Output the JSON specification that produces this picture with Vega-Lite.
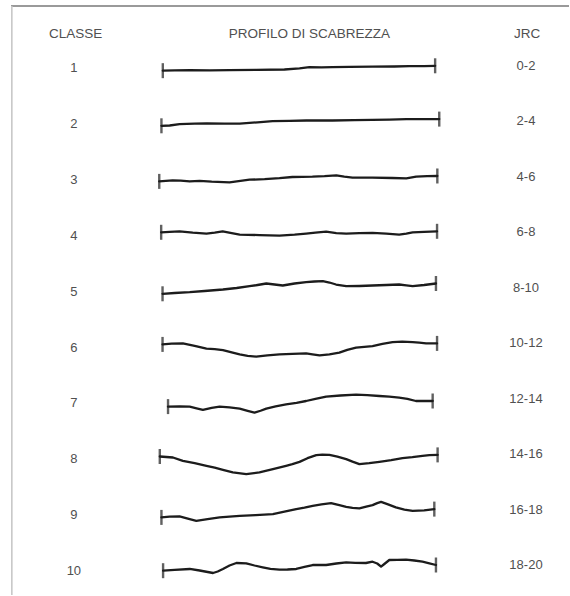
{
  "$schema": "https://vega.github.io/schema/vega-lite/v6.json",
  "width": 570,
  "height": 596,
  "autosize": {"type": "fit", "contains": "padding"},
  "padding": 0,
  "background": "white",
  "config": {"view": {"stroke": null}},
  "datasets": {
    "classi": [
      {"classe": 1, "jrc": "0-2"}, {"classe": 2, "jrc": "2-4"}, {"classe": 3, "jrc": "4-6"},
      {"classe": 4, "jrc": "6-8"}, {"classe": 5, "jrc": "8-10"}, {"classe": 6, "jrc": "10-12"},
      {"classe": 7, "jrc": "12-14"}, {"classe": 8, "jrc": "14-16"}, {"classe": 9, "jrc": "16-18"},
      {"classe": 10, "jrc": "18-20"}
    ],
    "profili": [
      {"classe":1,"x":0.4,"y":20.36},{"classe":1,"x":4.7,"y":20.22},{"classe":1,"x":10.2,"y":20.15},{"classe":1,"x":17.5,"y":20.25},{"classe":1,"x":24.7,"y":20.18},{"classe":1,"x":34.5,"y":20.07},{"classe":1,"x":44.7,"y":19.93},{"classe":1,"x":50.2,"y":19.5},{"classe":1,"x":53.8,"y":19.1},{"classe":1,"x":58.2,"y":19.16},{"classe":1,"x":62.2,"y":19.05},{"classe":1,"x":68.4,"y":18.95},{"classe":1,"x":76.7,"y":18.87},{"classe":1,"x":84.7,"y":18.84},{"classe":1,"x":90.2,"y":18.73},{"classe":1,"x":95.6,"y":18.69},{"classe":1,"x":99.6,"y":18.58},
      {"classe":2,"x":-0.1,"y":40.44},{"classe":2,"x":2.9,"y":40.33},{"classe":2,"x":6.5,"y":39.82},{"classe":2,"x":12.0,"y":39.64},{"classe":2,"x":16.4,"y":39.53},{"classe":2,"x":22.9,"y":39.64},{"classe":2,"x":28.4,"y":39.67},{"classe":2,"x":34.9,"y":39.16},{"classe":2,"x":40.4,"y":38.73},{"classe":2,"x":46.5,"y":38.62},{"classe":2,"x":52.7,"y":38.51},{"classe":2,"x":62.2,"y":38.51},{"classe":2,"x":70.2,"y":38.36},{"classe":2,"x":76.7,"y":38.25},{"classe":2,"x":82.9,"y":38.18},{"classe":2,"x":89.1,"y":38.04},{"classe":2,"x":95.6,"y":38.04},{"classe":2,"x":101.1,"y":38.0},
      {"classe":3,"x":-0.9,"y":60.69},{"classe":3,"x":1.5,"y":60.51},{"classe":3,"x":4.0,"y":60.32},{"classe":3,"x":6.9,"y":60.43},{"classe":3,"x":10.2,"y":60.72},{"classe":3,"x":13.8,"y":60.51},{"classe":3,"x":18.2,"y":60.8},{"classe":3,"x":24.7,"y":61.05},{"classe":3,"x":32.0,"y":60.07},{"classe":3,"x":37.5,"y":59.89},{"classe":3,"x":42.9,"y":59.52},{"classe":3,"x":47.6,"y":59.09},{"classe":3,"x":54.9,"y":58.98},{"classe":3,"x":59.3,"y":58.8},{"classe":3,"x":63.6,"y":58.51},{"classe":3,"x":66.5,"y":58.98},{"classe":3,"x":69.5,"y":59.34},{"classe":3,"x":76.7,"y":59.34},{"classe":3,"x":84.0,"y":59.45},{"classe":3,"x":89.1,"y":59.6},{"classe":3,"x":92.7,"y":58.98},{"classe":3,"x":96.7,"y":58.8},{"classe":3,"x":100.4,"y":58.72},
      {"classe":4,"x":-0.2,"y":79.23},{"classe":4,"x":2.9,"y":79.08},{"classe":4,"x":6.5,"y":78.87},{"classe":4,"x":11.3,"y":79.34},{"classe":4,"x":16.3,"y":79.7},{"classe":4,"x":19.3,"y":79.34},{"classe":4,"x":22.2,"y":78.87},{"classe":4,"x":25.5,"y":79.52},{"classe":4,"x":28.4,"y":80.07},{"classe":4,"x":35.6,"y":80.25},{"classe":4,"x":42.9,"y":80.43},{"classe":4,"x":48.4,"y":80.07},{"classe":4,"x":52.6,"y":79.7},{"classe":4,"x":56.0,"y":79.34},{"classe":4,"x":59.9,"y":78.98},{"classe":4,"x":63.6,"y":79.52},{"classe":4,"x":67.2,"y":79.7},{"classe":4,"x":72.0,"y":79.52},{"classe":4,"x":76.8,"y":79.45},{"classe":4,"x":81.8,"y":79.7},{"classe":4,"x":86.5,"y":80.07},{"classe":4,"x":89.1,"y":79.7},{"classe":4,"x":91.4,"y":79.23},{"classe":4,"x":95.6,"y":79.08},{"classe":4,"x":100.3,"y":78.87},
      {"classe":5,"x":0.3,"y":101.63},{"classe":5,"x":4.7,"y":101.34},{"classe":5,"x":10.2,"y":101.05},{"classe":5,"x":15.6,"y":100.61},{"classe":5,"x":22.3,"y":100.07},{"classe":5,"x":27.3,"y":99.52},{"classe":5,"x":32.0,"y":98.87},{"classe":5,"x":34.9,"y":98.43},{"classe":5,"x":38.1,"y":97.88},{"classe":5,"x":41.1,"y":98.25},{"classe":5,"x":44.1,"y":98.61},{"classe":5,"x":48.4,"y":97.88},{"classe":5,"x":52.6,"y":97.41},{"classe":5,"x":55.6,"y":97.15},{"classe":5,"x":58.7,"y":97.04},{"classe":5,"x":61.1,"y":97.52},{"classe":5,"x":63.5,"y":98.25},{"classe":5,"x":67.2,"y":98.87},{"classe":5,"x":72.0,"y":98.79},{"classe":5,"x":76.8,"y":98.61},{"classe":5,"x":81.8,"y":98.43},{"classe":5,"x":86.5,"y":98.25},{"classe":5,"x":89.1,"y":98.54},{"classe":5,"x":91.4,"y":98.87},{"classe":5,"x":95.6,"y":98.43},{"classe":5,"x":99.9,"y":97.88},
      {"classe":6,"x":0.3,"y":120.07},{"classe":6,"x":3.6,"y":119.81},{"classe":6,"x":7.7,"y":119.7},{"classe":6,"x":12.0,"y":120.61},{"classe":6,"x":16.3,"y":121.63},{"classe":6,"x":19.3,"y":121.81},{"classe":6,"x":22.3,"y":122.13},{"classe":6,"x":25.5,"y":122.97},{"classe":6,"x":28.4,"y":123.7},{"classe":6,"x":31.3,"y":124.24},{"classe":6,"x":34.4,"y":124.53},{"classe":6,"x":38.5,"y":124.06},{"classe":6,"x":42.9,"y":123.7},{"classe":6,"x":47.6,"y":123.51},{"classe":6,"x":52.6,"y":123.33},{"classe":6,"x":54.9,"y":123.7},{"classe":6,"x":57.5,"y":124.06},{"classe":6,"x":61.1,"y":123.7},{"classe":6,"x":64.7,"y":123.08},{"classe":6,"x":67.6,"y":122.06},{"classe":6,"x":70.8,"y":121.26},{"classe":6,"x":73.8,"y":120.97},{"classe":6,"x":76.8,"y":120.68},{"classe":6,"x":80.4,"y":119.88},{"classe":6,"x":84.1,"y":119.22},{"classe":6,"x":87.6,"y":119.08},{"classe":6,"x":91.4,"y":119.22},{"classe":6,"x":93.8,"y":119.41},{"classe":6,"x":96.3,"y":119.7},{"classe":6,"x":100.3,"y":119.7},
      {"classe":7,"x":2.3,"y":142.72},{"classe":7,"x":6.5,"y":142.61},{"classe":7,"x":10.2,"y":142.72},{"classe":7,"x":12.7,"y":143.34},{"classe":7,"x":15.0,"y":143.95},{"classe":7,"x":18.2,"y":143.15},{"classe":7,"x":21.1,"y":142.72},{"classe":7,"x":24.7,"y":142.97},{"classe":7,"x":28.4,"y":143.44},{"classe":7,"x":31.3,"y":144.24},{"classe":7,"x":33.8,"y":144.9},{"classe":7,"x":36.0,"y":144.24},{"classe":7,"x":38.1,"y":143.44},{"classe":7,"x":41.5,"y":142.61},{"classe":7,"x":45.3,"y":141.88},{"classe":7,"x":49.1,"y":141.33},{"classe":7,"x":52.6,"y":140.68},{"classe":7,"x":56.0,"y":139.88},{"classe":7,"x":59.9,"y":139.08},{"classe":7,"x":65.1,"y":138.68},{"classe":7,"x":70.8,"y":138.35},{"classe":7,"x":74.9,"y":138.53},{"classe":7,"x":79.3,"y":138.86},{"classe":7,"x":82.9,"y":139.08},{"classe":7,"x":86.5,"y":139.44},{"classe":7,"x":89.5,"y":139.88},{"classe":7,"x":92.6,"y":140.68},{"classe":7,"x":95.6,"y":140.61},{"classe":7,"x":98.7,"y":140.68},
      {"classe":8,"x":-0.7,"y":160.89},{"classe":8,"x":4.1,"y":161.26},{"classe":8,"x":7.7,"y":162.49},{"classe":8,"x":12.0,"y":163.33},{"classe":8,"x":16.3,"y":164.31},{"classe":8,"x":19.3,"y":164.97},{"classe":8,"x":22.3,"y":165.77},{"classe":8,"x":25.9,"y":166.71},{"classe":8,"x":30.8,"y":167.33},{"classe":8,"x":35.6,"y":166.71},{"classe":8,"x":40.5,"y":165.51},{"classe":8,"x":45.3,"y":164.31},{"classe":8,"x":47.6,"y":163.69},{"classe":8,"x":50.2,"y":162.86},{"classe":8,"x":53.1,"y":161.51},{"classe":8,"x":56.3,"y":160.42},{"classe":8,"x":58.5,"y":160.24},{"classe":8,"x":61.1,"y":160.31},{"classe":8,"x":64.0,"y":160.97},{"classe":8,"x":67.2,"y":161.87},{"classe":8,"x":69.5,"y":162.78},{"classe":8,"x":72.0,"y":163.69},{"classe":8,"x":75.6,"y":163.33},{"classe":8,"x":79.3,"y":162.86},{"classe":8,"x":83.6,"y":162.24},{"classe":8,"x":87.7,"y":161.51},{"classe":8,"x":91.3,"y":161.15},{"classe":8,"x":95.0,"y":160.67},{"classe":8,"x":97.5,"y":160.42},{"classe":8,"x":100.5,"y":160.31},
      {"classe":9,"x":-0.1,"y":183.08},{"classe":9,"x":2.9,"y":182.79},{"classe":9,"x":6.5,"y":182.71},{"classe":9,"x":9.5,"y":183.51},{"classe":9,"x":12.6,"y":184.31},{"classe":9,"x":16.7,"y":183.69},{"classe":9,"x":21.1,"y":183.08},{"classe":9,"x":24.7,"y":182.79},{"classe":9,"x":28.4,"y":182.49},{"classe":9,"x":34.2,"y":182.24},{"classe":9,"x":40.5,"y":181.88},{"classe":9,"x":44.7,"y":180.97},{"classe":9,"x":49.0,"y":180.06},{"classe":9,"x":52.0,"y":179.51},{"classe":9,"x":55.0,"y":178.86},{"classe":9,"x":58.2,"y":178.35},{"classe":9,"x":61.7,"y":177.87},{"classe":9,"x":64.7,"y":178.6},{"classe":9,"x":67.2,"y":179.22},{"classe":9,"x":69.5,"y":179.62},{"classe":9,"x":72.0,"y":179.8},{"classe":9,"x":74.5,"y":179.15},{"classe":9,"x":76.8,"y":178.6},{"classe":9,"x":78.5,"y":177.87},{"classe":9,"x":79.9,"y":177.4},{"classe":9,"x":82.2,"y":178.24},{"classe":9,"x":85.3,"y":179.44},{"classe":9,"x":88.4,"y":180.24},{"classe":9,"x":91.4,"y":180.67},{"classe":9,"x":95.6,"y":180.49},{"classe":9,"x":99.3,"y":180.06},
      {"classe":10,"x":0.5,"y":202.49},{"classe":10,"x":4.7,"y":202.23},{"classe":10,"x":10.2,"y":201.87},{"classe":10,"x":13.8,"y":202.42},{"classe":10,"x":18.7,"y":203.33},{"classe":10,"x":20.4,"y":202.78},{"classe":10,"x":22.3,"y":201.87},{"classe":10,"x":24.7,"y":200.6},{"classe":10,"x":27.2,"y":199.69},{"classe":10,"x":30.8,"y":199.8},{"classe":10,"x":33.8,"y":200.6},{"classe":10,"x":36.8,"y":201.25},{"classe":10,"x":39.6,"y":201.8},{"classe":10,"x":42.9,"y":202.13},{"classe":10,"x":45.8,"y":202.05},{"classe":10,"x":49.0,"y":201.87},{"classe":10,"x":52.0,"y":201.14},{"classe":10,"x":55.0,"y":200.42},{"classe":10,"x":57.5,"y":200.35},{"classe":10,"x":59.9,"y":200.42},{"classe":10,"x":63.6,"y":199.87},{"classe":10,"x":67.2,"y":199.44},{"classe":10,"x":70.5,"y":199.62},{"classe":10,"x":74.4,"y":199.69},{"classe":10,"x":76.8,"y":199.22},{"classe":10,"x":78.5,"y":199.87},{"classe":10,"x":79.9,"y":201.03},{"classe":10,"x":81.1,"y":200.05},{"classe":10,"x":82.9,"y":198.6},{"classe":10,"x":85.8,"y":198.53},{"classe":10,"x":89.0,"y":198.49},{"classe":10,"x":92.0,"y":198.78},{"classe":10,"x":95.0,"y":199.22},{"classe":10,"x":97.5,"y":199.8},{"classe":10,"x":99.9,"y":200.42}
    ]
  },
  "resolve": {"scale": {"y": "independent"}},
  "layer": [
    {
      "layer": [
        {
          "data": {"values": [{}]},
          "mark": {"type": "rule", "color": "#9a9a9a", "strokeWidth": 2},
          "encoding": {
            "x": {"datum": -54.9, "scale": {"domain": [-58.909, 148.364], "nice": false, "zero": false}, "axis": null},
            "x2": {"datum": 148.364},
            "y": {"datum": -3.2, "scale": {"domain": [-5.382, 211.345], "reverse": true, "nice": false, "zero": false}, "axis": null}
          }
        },
        {
          "data": {"values": [{}]},
          "mark": {"type": "rule", "color": "#c8c8c8", "strokeWidth": 1.6},
          "encoding": {
            "x": {"datum": -54.6, "scale": {"domain": [-58.909, 148.364], "nice": false, "zero": false}, "axis": null},
            "y": {"datum": -3.2, "scale": {"domain": [-5.382, 211.345], "reverse": true, "nice": false, "zero": false}, "axis": null},
            "y2": {"datum": 211.345}
          }
        },
        {
          "data": {"values": [{"titolo": "CLASSE"}]},
          "mark": {"type": "text", "font": "Liberation Sans", "fontSize": 13.5, "color": "#505050", "baseline": "middle", "align": "center"},
          "encoding": {
            "x": {"datum": -31.4, "scale": {"domain": [-58.909, 148.364], "nice": false, "zero": false}, "axis": null},
            "y": {"datum": 7.16, "scale": {"domain": [-5.382, 211.345], "reverse": true, "nice": false, "zero": false}, "axis": null},
            "text": {"field": "titolo"}
          }
        },
        {
          "data": {"values": [{"titolo": "PROFILO DI SCABREZZA"}]},
          "mark": {"type": "text", "font": "Liberation Sans", "fontSize": 13.5, "color": "#505050", "baseline": "middle", "align": "center"},
          "encoding": {
            "x": {"datum": 53.8, "scale": {"domain": [-58.909, 148.364], "nice": false, "zero": false}, "axis": null},
            "y": {"datum": 7.16, "scale": {"domain": [-5.382, 211.345], "reverse": true, "nice": false, "zero": false}, "axis": null},
            "text": {"field": "titolo"}
          }
        },
        {
          "data": {"values": [{"titolo": "JRC"}]},
          "mark": {"type": "text", "font": "Liberation Sans", "fontSize": 13.5, "color": "#505050", "baseline": "middle", "align": "center"},
          "encoding": {
            "x": {"datum": 133.1, "scale": {"domain": [-58.909, 148.364], "nice": false, "zero": false}, "axis": null},
            "y": {"datum": 7.16, "scale": {"domain": [-5.382, 211.345], "reverse": true, "nice": false, "zero": false}, "axis": null},
            "text": {"field": "titolo"}
          }
        },
        {
          "data": {"name": "profili"},
          "mark": {"type": "line", "color": "#1c1c1c", "strokeWidth": 2.3, "strokeJoin": "round", "strokeCap": "round"},
          "encoding": {
            "x": {"field": "x", "type": "quantitative", "scale": {"domain": [-58.909, 148.364], "nice": false, "zero": false}, "axis": null},
            "y": {"field": "y", "type": "quantitative", "scale": {"domain": [-5.382, 211.345], "reverse": true, "nice": false, "zero": false}, "axis": null},
            "detail": {"field": "classe", "type": "nominal"},
            "order": {"field": "x", "type": "quantitative"}
          }
        },
        {
          "data": {"name": "profili"},
          "transform": [
            {"joinaggregate": [{"op": "min", "field": "x", "as": "xmin"}, {"op": "max", "field": "x", "as": "xmax"}], "groupby": ["classe"]},
            {"filter": "datum.x === datum.xmin || datum.x === datum.xmax"}
          ],
          "mark": {"type": "tick", "orient": "vertical", "color": "#1c1c1c", "size": 15, "thickness": 2.4},
          "encoding": {
            "x": {"field": "x", "type": "quantitative", "scale": {"domain": [-58.909, 148.364], "nice": false, "zero": false}, "axis": null},
            "y": {"field": "y", "type": "quantitative", "scale": {"domain": [-5.382, 211.345], "reverse": true, "nice": false, "zero": false}, "axis": null}
          }
        }
      ]
    },
    {
      "data": {"name": "classi"},
      "mark": {"type": "text", "font": "Liberation Sans", "fontSize": 13, "color": "#505050", "baseline": "middle", "align": "center"},
      "encoding": {
        "x": {"datum": -32.0, "scale": {"domain": [-58.909, 148.364], "nice": false, "zero": false}, "axis": null},
        "y": {"field": "classe", "type": "quantitative", "scale": {"domain": [-0.2205, 10.4299], "reverse": true, "nice": false, "zero": false}, "axis": null},
        "text": {"field": "classe", "type": "nominal"}
      }
    },
    {
      "data": {"name": "classi"},
      "mark": {"type": "text", "font": "Liberation Sans", "fontSize": 13, "color": "#505050", "baseline": "middle", "align": "center"},
      "encoding": {
        "x": {"datum": 132.7, "scale": {"domain": [-58.909, 148.364], "nice": false, "zero": false}, "axis": null},
        "y": {"field": "classe", "type": "quantitative", "scale": {"domain": [-0.187, 10.532], "reverse": true, "nice": false, "zero": false}, "axis": null},
        "text": {"field": "jrc", "type": "nominal"}
      }
    }
  ]
}
